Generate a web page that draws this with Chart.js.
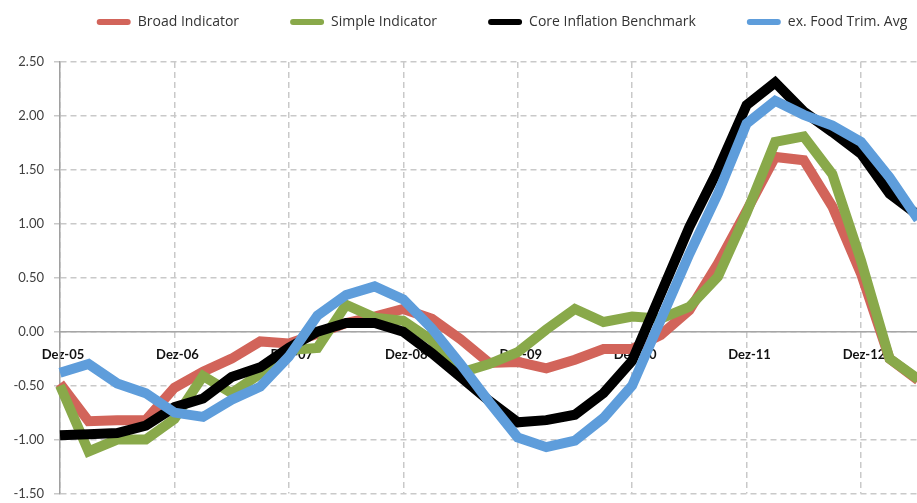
<!DOCTYPE html>
<html>
<head>
<meta charset="utf-8">
<script src="https://cdn.jsdelivr.net/npm/chart.js@4/dist/chart.umd.min.js"></script>
<style>
  html, body { margin: 0; padding: 0; background: #fff; overflow: hidden; }
  /* the original picture is cropped on the right: draw wider and let the window cut it */
  #wrap { width: 1004px; height: 503px; position: relative; }
</style>
</head>
<body>
<div id="wrap"><canvas id="inflChart"></canvas></div>
<script>
// quarterly observations, first point = Dez-05
const yearTicks = ["Dez-05", "Dez-06", "Dez-07", "Dez-08", "Dez-09", "Dez-10", "Dez-11", "Dez-12", "Dez-13"];

const broadIndicator = [-0.48, -0.83, -0.82, -0.82, -0.52, -0.37, -0.25, -0.09, -0.11, -0.02, 0.08,
  0.14, 0.21, 0.12, -0.07, -0.29, -0.28, -0.34, -0.26, -0.16, -0.16, -0.03, 0.20, 0.63, 1.12,
  1.62, 1.59, 1.16, 0.54, -0.25, -0.45];
const simpleIndicator = [-0.50, -1.11, -1.00, -1.00, -0.81, -0.41, -0.57, -0.39, -0.17, -0.15, 0.25,
  0.13, 0.10, -0.08, -0.38, -0.30, -0.19, 0.02, 0.21, 0.09, 0.14, 0.12, 0.23, 0.51, 1.10,
  1.76, 1.81, 1.46, 0.66, -0.25, -0.44];
const coreBenchmark = [-0.96, -0.95, -0.94, -0.87, -0.70, -0.62, -0.42, -0.33, -0.15, 0.00, 0.08,
  0.08, 0.00, -0.20, -0.42, -0.64, -0.84, -0.82, -0.77, -0.57, -0.27, 0.35, 0.97, 1.50, 2.10,
  2.31, 2.04, 1.85, 1.65, 1.28, 1.08];
const exFoodTrimAvg = [-0.38, -0.30, -0.48, -0.57, -0.75, -0.79, -0.63, -0.51, -0.23, 0.15, 0.34,
  0.42, 0.30, 0.03, -0.30, -0.65, -0.98, -1.07, -1.01, -0.80, -0.50, 0.11, 0.72, 1.28, 1.93,
  2.14, 2.01, 1.91, 1.76, 1.43, 1.04];

// one label per quarter, only December gets text
const labels = [];
for (let i = 0; i < 34; i++) {
  labels.push(i % 4 === 0 ? yearTicks[i / 4] : "");
}

const FONT = "Lato, 'Open Sans', sans-serif";
const gridColor = "#c9c9c9";

const mkLine = (label, data, color, order) => ({
  label,
  data,
  borderColor: color,
  backgroundColor: color,
  borderWidth: 10,
  pointRadius: 0,
  tension: 0,
  order, // blue drawn on top, like the original
});

const ctx = document.getElementById("inflChart").getContext("2d");
new Chart(ctx, {
  type: "line",
  data: {
    labels,
    datasets: [
      mkLine("Broad Indicator", broadIndicator, "#D2645A", 4),
      mkLine("Simple Indicator", simpleIndicator, "#89A94A", 3),
      mkLine("Core Inflation Benchmark", coreBenchmark, "#000000", 2),
      mkLine("ex. Food Trim. Avg", exFoodTrimAvg, "#5E9DDB", 1),
    ],
  },
  options: {
    responsive: true,
    maintainAspectRatio: false,
    animation: false,
    layout: { autoPadding: false, padding: { left: 0, right: 0, top: -36, bottom: 9.5 } },
    plugins: {
      tooltip: { enabled: false },
      legend: {
        position: "top",
        align: "center",
        labels: {
          font: { family: "'Open Sans', sans-serif", size: 14 },
          color: "#333",
          boxWidth: 34,
          boxHeight: 6,
          useBorderRadius: true,
          borderRadius: 3,
          padding: 51,
          sort: (a, b) => a.datasetIndex - b.datasetIndex,
          generateLabels: (chart) =>
            Chart.defaults.plugins.legend.labels.generateLabels(chart).map((item) => {
              item.lineWidth = 0;
              return item;
            }),
        },
      },
    },
    scales: {
      x: {
        type: "category",
        position: { y: 0 },
        grid: {
          color: (c) => (c.index % 4 === 0 ? gridColor : "rgba(0,0,0,0)"),
          lineWidth: 1.5,
          drawTicks: false,
        },
        border: { display: true, color: "#a6a6a6", width: 1.5, dash: [6, 4] },
        ticks: {
          autoSkip: false,
          maxRotation: 0,
          padding: 15,
          labelOffset: 3,
          color: "#111",
          font: { family: FONT, size: 13, weight: "bold" },
        },
        afterFit: (s) => { s.paddingLeft = 0; s.paddingRight = 0; },
      },
      spacer: {
        type: "category",
        position: "top",
        grid: { display: false, drawTicks: false },
        border: { display: false },
        ticks: { display: false },
        afterFit: (s) => { s.height = 23; s.paddingLeft = 0; s.paddingRight = 0; },
      },
      y: {
        min: -1.5,
        max: 2.5,
        grid: {
          color: gridColor,
          lineWidth: 1.5,
          tickLength: 6,
        },
        border: { display: true, color: "#a0a0a0", width: 1.5, dash: [6, 4] },
        ticks: {
          stepSize: 0.5,
          padding: 10,
          color: "#404040",
          font: { family: FONT, size: 13 },
          callback: (v) => v.toFixed(2),
        },
        afterFit: (s) => { s.width = 60; s.paddingTop = 0; s.paddingBottom = 0; },
      },
    },
  },
});
</script>
</body>
</html>
